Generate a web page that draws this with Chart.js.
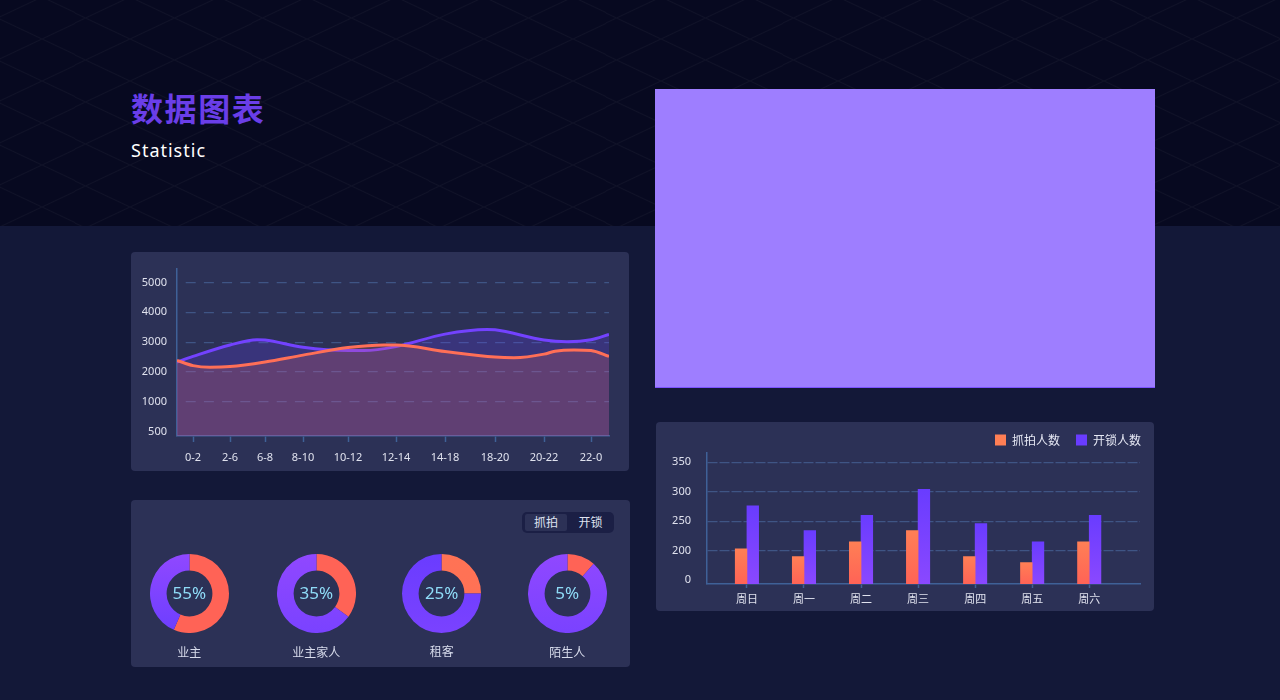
<!DOCTYPE html>
<html lang="zh">
<head>
<meta charset="utf-8">
<title>数据图表</title>
<script src="https://cdn.jsdelivr.net/npm/chart.js@4"></script>
<style>
  html, body { margin: 0; padding: 0; }
  body {
    width: 1280px; height: 700px; position: relative; overflow: hidden;
    background: #131838;
    font-family: "Noto Sans", "Noto Sans CJK SC", sans-serif;
  }
  .band {
    position: absolute; left: 0; top: 0; width: 1280px; height: 226px;
    background-color: #070920;
    background-image: url("data:image/svg+xml,%3Csvg xmlns='http://www.w3.org/2000/svg' width='88.5' height='42'%3E%3Cpath d='M0 0L88.5 42M0 42L88.5 0' stroke='%23ffffff' stroke-opacity='.035' fill='none'/%3E%3C/svg%3E");
    background-position: 41.7px 39.3px;
  }
  .title { position: absolute; left: 131px; top: 84px; font-size: 32px; line-height: 46px; font-weight: 700; color: #6a3ee8; font-family: "Noto Sans CJK SC", sans-serif; letter-spacing: 1.6px; }
  .subtitle { position: absolute; left: 131px; top: 136px; font-size: 18px; line-height: 28px; color: #fff; letter-spacing: 1px; }
  .placeholder { position: absolute; left: 655px; top: 89px; width: 500px; height: 298px; background: #9e7eff; border-bottom: 1px solid #7c52ff; }
  .card { position: absolute; background: #2c3156; border-radius: 4px; }
  canvas { position: absolute; }
  .toggle { position: absolute; left: 522px; top: 512px; width: 92px; height: 21px; background: #1b1f45; border-radius: 5px; }
  .toggle span { position: absolute; top: 2px; height: 17px; line-height: 17px; font-size: 12px; text-align: center; color: #dfe2f0; }
  .toggle .on { left: 3px; width: 42px; background: #2c3156; border-radius: 2px; }
  .toggle .off { left: 47px; width: 43px; }
  .ring-value { position: absolute; width: 60px; text-align: center; font-size: 17px; line-height: 24px; color: #8fdcf8; }
  .ring-name { position: absolute; width: 100px; text-align: center; font-size: 12px; line-height: 18px; color: #d8dcec; font-family: "Noto Sans CJK SC", sans-serif; }
</style>
</head>
<body>
<div class="band"></div>
<div class="title">数据图表</div>
<div class="subtitle">Statistic</div>
<div class="placeholder"></div>

<div class="card" style="left:131px;top:252px;width:498px;height:219px"></div>
<canvas id="trendChart" width="498" height="219" style="left:131px;top:252px"></canvas>

<div class="card" style="left:131px;top:500px;width:499px;height:167px"></div>
<div class="toggle"><span class="on">抓拍</span><span class="off">开锁</span></div>
<div id="rings"></div>

<div class="card" style="left:656px;top:422px;width:498px;height:189px"></div>
<canvas id="weekChart" width="498" height="189" style="left:656px;top:422px"></canvas>

<script>
/* ========= Data ========= */
// trend chart: x is a position along the axis, the slots are not evenly wide
const slotLabels = ["0-2", "2-6", "6-8", "8-10", "10-12", "12-14", "14-18", "18-20", "20-22", "22-0"];
const slotStops = [16, 53, 88, 126, 171, 219, 268, 318, 367, 414];
const trendTickValues = [0, 1000, 2000, 3000, 4000, 5000];
const trendTickLabels = ["500", "1000", "2000", "3000", "4000", "5000"];

const unlockX = [0, 16, 53, 80, 88, 126, 171, 187, 219, 268, 310, 318, 367, 390, 414, 432];
const unlockValues = [2335, 2522, 2907, 3084, 3073, 2830, 2720, 2720, 2852, 3271, 3425, 3414, 3073, 3018, 3084, 3260];
const captureX = [0, 16, 33, 53, 88, 126, 171, 207, 219, 268, 318, 337, 367, 378, 397, 414, 432];
const captureValues = [2390, 2214, 2159, 2181, 2335, 2566, 2819, 2907, 2907, 2687, 2500, 2478, 2599, 2698, 2742, 2720, 2522];

// week chart
const weekLabels = ["周日", "周一", "周二", "周三", "周四", "周五", "周六"];
const captureCounts = [203, 190, 215, 234, 190, 180, 215];
const unlockCounts = [276, 234, 260, 304, 246, 215, 260];
const weekTickValues = [150, 200, 250, 300, 350];
const weekTickLabels = ["0", "200", "250", "300", "350"];

// rings
const ringNames = ["业主", "业主家人", "租客", "陌生人"];
const ringTexts = ["55%", "35%", "25%", "5%"];
const ringShares = [56.5, 35, 25, 11.5];
const ringCenters = [189.3, 316.3, 441.7, 567.3];
const ringNameTops = [643, 643, 641.5, 643];

/* ========= Colours ========= */
const TICK_TEXT = "#e0e2ee";
const AXIS_LINE = "#3f6197";
const GRID_LINE = "#3f5585";
const TICK_FONT = { family: '"Noto Sans", "Noto Sans CJK SC", sans-serif', size: 11 };

function toPoints(xs, ys) {
  return xs.map((x, i) => ({ x: x, y: ys[i] }));
}

/* ========= Trend chart ========= */
new Chart(document.getElementById("trendChart"), {
  type: "line",
  data: {
    datasets: [
      { label: "抓拍", data: toPoints(captureX, captureValues), borderColor: "#ff6f57", borderWidth: 3,
        backgroundColor: "rgba(255,110,85,.2)", fill: "start", cubicInterpolationMode: "monotone", pointRadius: 0 },
      { label: "开锁", data: toPoints(unlockX, unlockValues), borderColor: "#7342ff", borderWidth: 3,
        backgroundColor: "rgba(107,63,255,.22)", fill: "start", cubicInterpolationMode: "monotone", pointRadius: 0 }
    ]
  },
  options: {
    responsive: false,
    animation: false,
    layout: { padding: { top: 15, right: 20 } },
    plugins: { legend: { display: false }, tooltip: { enabled: false } },
    scales: {
      x: {
        type: "linear", min: 0, max: 432,
        afterBuildTicks: s => { s.ticks = slotStops.map(v => ({ value: v })); },
        afterFit: s => { s.height = 35; },
        grid: { drawOnChartArea: false, drawTicks: true, tickLength: 6, tickColor: AXIS_LINE, tickWidth: 1.5 },
        border: { color: AXIS_LINE, width: 1.5 },
        ticks: { color: TICK_TEXT, font: TICK_FONT, padding: 9, maxRotation: 0, autoSkip: false,
          callback: (v, i) => slotLabels[i] }
      },
      y: {
        min: -145, max: 5467,
        afterBuildTicks: s => { s.ticks = trendTickValues.map(v => ({ value: v })); },
        afterFit: s => { s.width = 46; },
        grid: { drawTicks: false, color: c => c.tick.value === 0 ? "transparent" : GRID_LINE, lineWidth: 1.3 },
        border: { color: AXIS_LINE, width: 1.5, dash: [10, 8.2], dashOffset: 10 },
        ticks: { color: TICK_TEXT, font: TICK_FONT, padding: 10, autoSkip: false,
          callback: (v, i) => trendTickLabels[i] }
      }
    }
  }
});

/* ========= Week bars ========= */
function barFill(top, bottom, solid) {
  return context => {
    const { ctx, scales, chartArea } = context.chart;
    if (!context.raw || !chartArea) return solid;
    const g = ctx.createLinearGradient(0, scales.y.getPixelForValue(context.raw.y), 0, chartArea.bottom);
    g.addColorStop(0, top);
    g.addColorStop(1, bottom);
    return g;
  };
}

new Chart(document.getElementById("weekChart"), {
  type: "bar",
  data: {
    datasets: [
      { label: "抓拍人数", data: toPoints(weekLabels.map((_, i) => i), captureCounts),
        backgroundColor: barFill("#ff7f55", "#ff6356", "#ff7755"), barThickness: 11.7 },
      { label: "开锁人数", data: toPoints(weekLabels.map((_, i) => i), unlockCounts),
        backgroundColor: barFill("#693cff", "#8a48ff", "#6c3eff"), barThickness: 11.7 }
    ]
  },
  options: {
    responsive: false,
    animation: false,
    layout: { padding: { right: -3, top: -4 } },
    plugins: {
      tooltip: { enabled: false },
      legend: {
        position: "top", align: "end", maxHeight: 35,
        labels: { color: "#e6e8f4", boxWidth: 11, boxHeight: 11, padding: 16,
          font: { family: '"Noto Sans CJK SC", sans-serif', size: 12 } }
      }
    },
    scales: {
      x: {
        type: "linear", min: -0.7, max: 6.89, offset: false,
        afterBuildTicks: s => { s.ticks = weekLabels.map((_, i) => ({ value: i })); },
        afterFit: s => { s.height = 27; },
        grid: { offset: false, drawOnChartArea: false, drawTicks: true, tickLength: 4, tickColor: AXIS_LINE, tickWidth: 1.5 },
        border: { color: AXIS_LINE, width: 1.5 },
        ticks: { color: TICK_TEXT, font: TICK_FONT, padding: 5, maxRotation: 0, autoSkip: false,
          callback: (v, i) => weekLabels[i] }
      },
      y: {
        min: 143.6, max: 365.6,
        afterBuildTicks: s => { s.ticks = weekTickValues.map(v => ({ value: v })); },
        afterFit: s => { s.width = 51; },
        grid: { drawTicks: false, color: c => c.tick.value === 150 ? "transparent" : GRID_LINE, lineWidth: 1.3 },
        border: { color: AXIS_LINE, width: 1.5, dash: [10, 2] },
        ticks: { color: TICK_TEXT, font: TICK_FONT, padding: 16, autoSkip: false,
          callback: (v, i) => weekTickLabels[i] }
      },
      // empty axis: keeps the plot clear of the card edge while the legend runs further right
      rightGap: {
        type: "linear", position: "right",
        afterFit: s => { s.width = 17; },
        grid: { display: false }, border: { display: false }, ticks: { display: false }
      }
    }
  }
});

/* ========= Rings ========= */
const RING_COLORS = [
  ["#ff6356", "#ff6356", "#9048ff", "#6c3eff"],
  ["#ff6356", "#ff6356", "#9048ff", "#7a42ff"],
  ["#ff7355", "#ff6f55", "#6a3cff", "#7a42ff"],
  ["#ff6356", "#ff6356", "#9048ff", "#7a42ff"]
];
const ringsEl = document.getElementById("rings");

ringNames.forEach((name, i) => {
  const cx = ringCenters[i];
  const canvas = document.createElement("canvas");
  canvas.width = 79;
  canvas.height = 79;
  canvas.style.left = (cx - 39.5) + "px";
  canvas.style.top = "554px";
  ringsEl.appendChild(canvas);

  const value = document.createElement("div");
  value.className = "ring-value";
  value.textContent = ringTexts[i];
  value.style.left = (cx - 30) + "px";
  value.style.top = "581px";
  ringsEl.appendChild(value);

  const label = document.createElement("div");
  label.className = "ring-name";
  label.textContent = name;
  label.style.left = (cx - 50) + "px";
  label.style.top = ringNameTops[i] + "px";
  ringsEl.appendChild(label);

  const ctx = canvas.getContext("2d");
  const stops = RING_COLORS[i];
  const warm = ctx.createLinearGradient(0, 0, 0, 79);
  warm.addColorStop(0, stops[0]);
  warm.addColorStop(1, stops[1]);
  const cool = ctx.createLinearGradient(0, 0, 0, 79);
  cool.addColorStop(0, stops[2]);
  cool.addColorStop(1, stops[3]);

  new Chart(canvas, {
    type: "doughnut",
    data: {
      labels: ["抓拍", "其他"],
      datasets: [{ data: [ringShares[i], 100 - ringShares[i]], backgroundColor: [warm, cool], borderWidth: 0 }]
    },
    options: {
      responsive: false,
      animation: false,
      cutout: "58%",
      plugins: { legend: { display: false }, tooltip: { enabled: false } }
    }
  });
});
</script>
</body>
</html>
